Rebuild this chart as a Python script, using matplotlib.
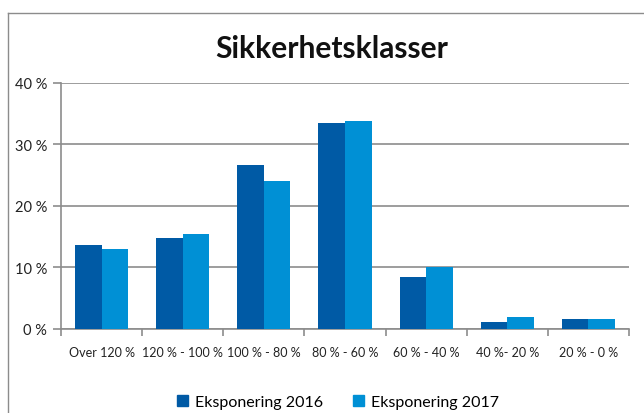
import numpy as np
import matplotlib
matplotlib.use("Agg")
import matplotlib.pyplot as plt
from matplotlib.lines import Line2D
from matplotlib.patches import Patch

plt.rcParams['font.family'] = ['Lato', 'DejaVu Sans']

categories = ["Over 120 %", "120 % - 100 %", "100 % - 80 %", "80 % - 60 %",
              "60 % - 40 %", "40 %- 20 %", "20 % - 0 %"]
eksp_2016 = [13.7, 14.7, 26.6, 33.5, 8.4, 1.2, 1.7]
eksp_2017 = [13.0, 15.4, 24.0, 33.8, 10.0, 1.9, 1.7]
y_ticks = [0, 10, 20, 30, 40]

col_2016 = "#005aa5"
col_2017 = "#0090d5"
grid_col = "#8c8c8c"

W, H = 644, 414
fig = plt.figure(figsize=(W / 100, H / 100), dpi=100)

# chart frame (cropped at right/bottom)
fig.add_artist(Line2D([8 / W, 8 / W], [0, 1 - 14 / H], transform=fig.transFigure, color=grid_col, lw=1))
fig.add_artist(Line2D([8 / W, 1], [1 - 14 / H, 1 - 14 / H], transform=fig.transFigure, color=grid_col, lw=1))

ax = fig.add_axes([61 / W, (H - 330) / H, 568 / W, (330 - 83.7) / H])

x = np.arange(len(categories))
bw = 0.327
ax.bar(x - bw / 2, eksp_2016, width=bw, color=col_2016, label="Eksponering 2016", zorder=3)
ax.bar(x + bw / 2, eksp_2017, width=bw, color=col_2017, label="Eksponering 2017", zorder=3)

ax.set_xlim(-0.5, len(categories) - 0.5)
ax.set_ylim(0, 40)
ax.set_yticks(y_ticks)
ax.set_yticklabels([f"{v} %" for v in y_ticks], fontsize=10.5, color="#222222")
ax.yaxis.grid(True, color=grid_col, lw=1.2, zorder=0)

ax.set_xticks(np.arange(len(categories) + 1) - 0.5)
ax.set_xticklabels([])
ax.set_xticks(x, minor=True)
ax.set_xticklabels(categories, minor=True, fontsize=9, color="#222222")
ax.tick_params(axis="x", which="major", length=5, color=grid_col, width=1.2)
ax.tick_params(axis="x", which="minor", length=0, pad=12)
ax.tick_params(axis="y", length=6, color=grid_col, width=1.2, pad=4)

for s in ["top", "right"]:
    ax.spines[s].set_visible(False)
for s in ["left", "bottom"]:
    ax.spines[s].set_color(grid_col)
    ax.spines[s].set_linewidth(1.2)

fig.text(332 / W, 1 - 49 / H, "Sikkerhetsklasser", ha="center", va="center",
         fontsize=21.5, fontweight="bold", color="#111111")

handles = [Patch(color=col_2016), Patch(color=col_2017)]
fig.legend(handles, ["Eksponering 2016", "Eksponering 2017"], loc="center",
           bbox_to_anchor=(338 / W, 1 - 403 / H), ncol=2, frameon=False,
           fontsize=11.5, handlelength=0.7, handleheight=0.7, handletextpad=0.4,
           columnspacing=1.9)

fig.savefig("out.png", dpi=100)
